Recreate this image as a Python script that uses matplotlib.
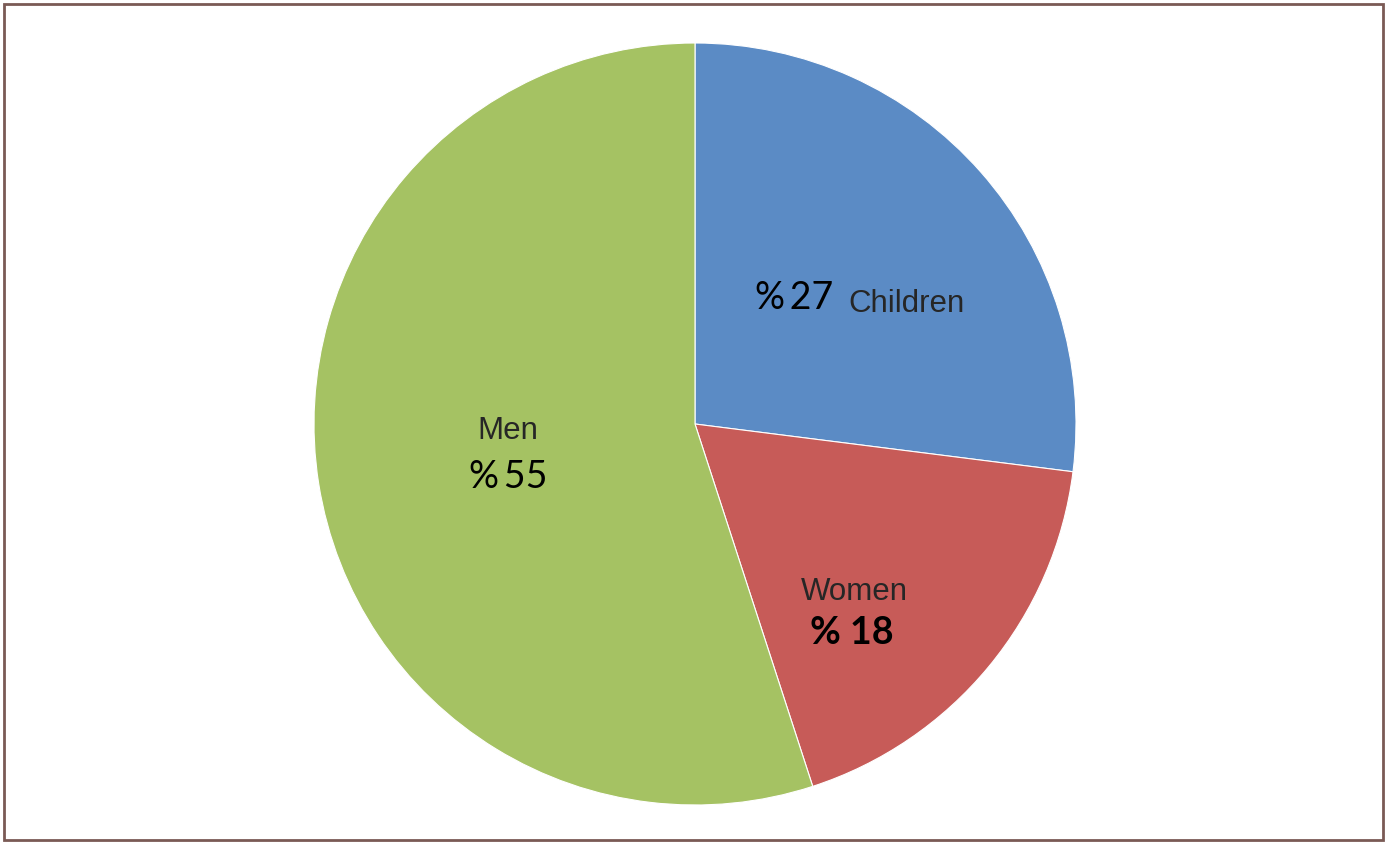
import matplotlib
matplotlib.use("Agg")
import matplotlib.pyplot as plt
from matplotlib.patches import Rectangle

# Share of each group
groups = ["Children", "Women", "Men"]
shares = [27, 18, 55]
colors = ["#5B8BC5", "#C75B58", "#A5C263"]

W, H = 1387, 843
fig = plt.figure(figsize=(W / 100, H / 100), dpi=100)

# pie centre (695, 424) px, radius 381 px
cx, cy, r = 695, H - 424, 381
ax = fig.add_axes([(cx - r) / W, (cy - r) / H, 2 * r / W, 2 * r / H])
ax.pie(shares, colors=colors, startangle=90, counterclock=False, radius=1,
       wedgeprops=dict(edgecolor="white", linewidth=0.8))
ax.set_xlim(-1, 1)
ax.set_ylim(-1, 1)
ax.set_aspect("equal")
ax.axis("off")

name_font = dict(family="Liberation Sans", fontsize=22.5, color="#262626")
num_font = dict(family=["Lato", "DejaVu Sans"], fontsize=27, color="black")
gap = "\u2009"

# Children: number and name on one line
ax.text(0.362, 0.33, f"%{gap}{shares[0]}", ha="right", va="center", **num_font)
ax.text(0.555, 0.315, groups[0], ha="center", va="center", **name_font)

# Women
ax.text(0.417, -0.441, groups[1], ha="center", va="center", **name_font)
ax.text(0.412, -0.548, f"% {shares[1]}", ha="center", va="center",
        fontweight="bold", **num_font)

# Men
ax.text(-0.49, -0.018, groups[2], ha="center", va="center", **name_font)
ax.text(-0.489, -0.14, f"%{gap}{shares[2]}", ha="center", va="center", **num_font)

# outer frame
fig.add_artist(Rectangle((4 / W, 3 / H), (W - 8) / W, (H - 7) / H,
                         transform=fig.transFigure, fill=False,
                         edgecolor="#7A5A55", linewidth=2))

fig.savefig("out.png", dpi=100, facecolor="white")
